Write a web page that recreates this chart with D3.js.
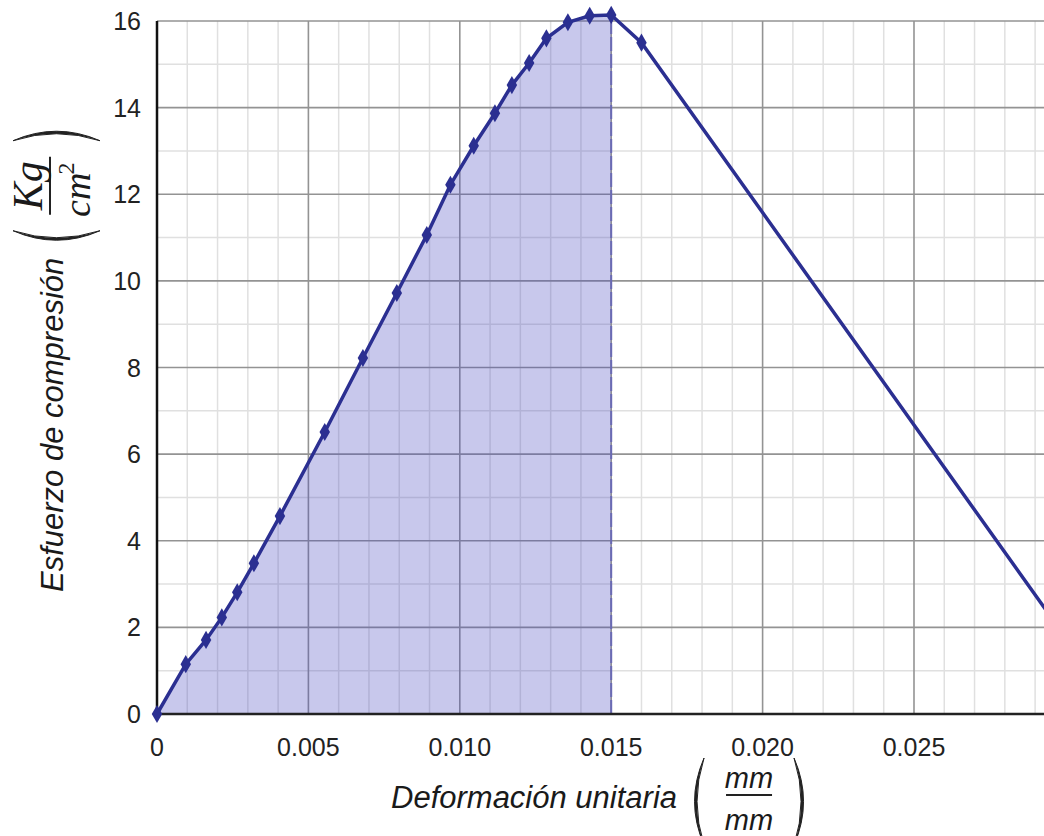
<!DOCTYPE html>
<html>
<head>
<meta charset="utf-8">
<script src="https://cdn.jsdelivr.net/npm/d3@7"></script>
<style>
  body { margin: 0; background: #fff; }
  svg { display: block; }
</style>
</head>
<body>
<script>
// strain (mm/mm) and stress (Kg/cm2)
var strain = [0, 0.00095, 0.00162, 0.00214, 0.00265, 0.0032, 0.00406, 0.00554, 0.0068, 0.00792,
    0.00891, 0.00969, 0.01046, 0.01116, 0.01172, 0.01229, 0.01286, 0.01357, 0.01429, 0.0150,
    0.0160, 0.0300];
var stress = [0, 1.15, 1.71, 2.23, 2.81, 3.48, 4.57, 6.51, 8.22, 9.72,
    11.06, 12.22, 13.12, 13.87, 14.52, 15.03, 15.6, 15.97, 16.12, 16.14,
    15.5, 1.77];
var markerCount = 21; // last point lies beyond the visible edge
var shadeLimit = 0.015;

var xTicks = [0, 0.005, 0.010, 0.015, 0.020, 0.025];
var xTickLabels = ["0", "0.005", "0.010", "0.015", "0.020", "0.025"];
var yTicks = [0, 2, 4, 6, 8, 10, 12, 14, 16];

var width = 1044, height = 836;
var lineColor = "#2b2f91";

var svg = d3.select("body").append("svg")
    .attr("width", width)
    .attr("height", height);

var x = d3.scaleLinear().domain([0, 0.025]).range([157, 914]);
var y = d3.scaleLinear().domain([0, 16]).range([714, 21]);

var points = strain.map((d, i) => ({ x: d, y: stress[i] }));

// grid
var grid = svg.append("g");
grid.selectAll("line.minx")
    .data(d3.range(1, 30).map(i => i * 0.001).filter(v => Math.round(v * 1000) % 5 !== 0))
    .enter().append("line")
    .attr("x1", d => x(d)).attr("x2", d => x(d))
    .attr("y1", y(0)).attr("y2", y(16))
    .style("stroke", "#e0e0e0").style("stroke-width", 1.5);
grid.selectAll("line.miny")
    .data(d3.range(1, 16, 2))
    .enter().append("line")
    .attr("x1", x(0)).attr("x2", width)
    .attr("y1", d => y(d)).attr("y2", d => y(d))
    .style("stroke", "#e0e0e0").style("stroke-width", 1.5);
grid.selectAll("line.majx")
    .data(xTicks.slice(1))
    .enter().append("line")
    .attr("x1", d => x(d)).attr("x2", d => x(d))
    .attr("y1", y(0)).attr("y2", y(16))
    .style("stroke", "#939393").style("stroke-width", 1.6);
grid.selectAll("line.majy")
    .data(yTicks.slice(1))
    .enter().append("line")
    .attr("x1", x(0)).attr("x2", width)
    .attr("y1", d => y(d)).attr("y2", d => y(d))
    .style("stroke", "#939393").style("stroke-width", 1.6);

// shaded area under the curve up to the peak
var shaded = points.filter(d => d.x <= shadeLimit);
var area = d3.area()
    .x(d => x(d.x))
    .y0(y(0))
    .y1(d => y(d.y));
svg.append("path")
    .datum(shaded)
    .attr("d", area)
    .style("fill", "#4848c0")
    .style("fill-opacity", 0.3);

var peak = shaded[shaded.length - 1];
svg.append("line")
    .attr("x1", x(peak.x)).attr("x2", x(peak.x))
    .attr("y1", y(0)).attr("y2", y(peak.y))
    .style("stroke", "#6a6ab4")
    .style("stroke-width", 2)
    .style("stroke-dasharray", "14,3");

// axes lines
svg.append("line")
    .attr("x1", x(0)).attr("x2", x(0))
    .attr("y1", y(16)).attr("y2", y(0))
    .style("stroke", "#111").style("stroke-width", 2.5);
svg.append("line")
    .attr("x1", x(0)).attr("x2", width)
    .attr("y1", y(0)).attr("y2", y(0))
    .style("stroke", "#222").style("stroke-width", 2.5);

// curve
var line = d3.line()
    .x(d => x(d.x))
    .y(d => y(d.y));
svg.append("path")
    .datum(points)
    .attr("d", line)
    .style("fill", "none")
    .style("stroke", lineColor)
    .style("stroke-width", 3.5);

svg.append("g")
    .selectAll("path")
    .data(points.slice(0, markerCount))
    .enter().append("path")
    .attr("d", d3.symbol().type(d3.symbolDiamond).size(95))
    .attr("transform", d => "translate(" + x(d.x) + "," + y(d.y) + ")")
    .style("fill", lineColor);

// tick labels
svg.append("g")
    .selectAll("text")
    .data(yTicks)
    .enter().append("text")
    .attr("x", 141)
    .attr("y", d => y(d) + 9)
    .attr("text-anchor", "end")
    .style("font-family", "'Liberation Sans', Arial, sans-serif")
    .style("font-size", "25px")
    .style("fill", "#222")
    .text(d => d);

svg.append("g")
    .selectAll("text")
    .data(xTicks)
    .enter().append("text")
    .attr("x", d => x(d))
    .attr("y", 756)
    .attr("text-anchor", "middle")
    .style("font-family", "'Liberation Sans', Arial, sans-serif")
    .style("font-size", "25px")
    .style("fill", "#222")
    .text((d, i) => xTickLabels[i]);

// axis titles with fraction units
function paren(g, x0, open) {
    // filled crescent shaped bracket between local y -50 and 37
    var top = -50, bot = 37, mid = (top + bot) / 2;
    var a = open ? x0 + 13 : x0, b = open ? x0 : x0 + 13;
    var c1 = open ? b - 6 : b + 6;
    var c2 = open ? b - 1 : b + 1;
    g.append("path")
        .attr("d", "M" + a + "," + top +
            " Q" + c1 + "," + mid + " " + a + "," + bot +
            " Q" + c2 + "," + mid + " " + a + "," + top + " Z")
        .style("fill", "#222")
        .style("stroke", "#222")
        .style("stroke-width", 1);
}

function axisTitle(g, label, fraction) {
    var t = g.append("text")
        .attr("x", 0).attr("y", 0)
        .style("font-family", "'Liberation Sans', Arial, sans-serif")
        .style("font-style", "italic")
        .style("font-size", "31px")
        .style("fill", "#1a1a1a")
        .text(label);
    var end = t.node().getComputedTextLength();
    paren(g, end + 14, true);
    paren(g, end + 117, false);
    var cx = end + 72;
    g.append("line")
        .attr("x1", cx - fraction.bar / 2).attr("x2", cx + fraction.bar / 2)
        .attr("y1", -13).attr("y2", -13)
        .style("stroke", "#222").style("stroke-width", 2);
    fraction.draw(g, cx);
}

var xTitle = svg.append("g").attr("transform", "translate(391,808)");
axisTitle(xTitle, "Deformación unitaria", {
    bar: 46,
    draw: function (g, cx) {
        ["mm", "mm"].forEach(function (s, i) {
            g.append("text")
                .attr("x", cx).attr("y", i === 0 ? -20 : 22)
                .attr("text-anchor", "middle")
                .style("font-family", "'Liberation Sans', Arial, sans-serif")
                .style("font-style", "italic")
                .style("font-size", "29px")
                .style("fill", "#1a1a1a")
                .text(s);
        });
    }
});

var yTitle = svg.append("g").attr("transform", "translate(63,592) rotate(-90)");
axisTitle(yTitle, "Esfuerzo de compresión", {
    bar: 58,
    draw: function (g, cx) {
        g.append("text")
            .attr("x", cx).attr("y", -21)
            .attr("text-anchor", "middle")
            .style("font-family", "'Liberation Serif', 'Times New Roman', serif")
            .style("font-style", "italic")
            .style("font-size", "42px")
            .style("fill", "#1a1a1a")
            .text("Kg");
        var den = g.append("text")
            .attr("x", cx - 4).attr("y", 27)
            .attr("text-anchor", "middle")
            .style("font-family", "'Liberation Serif', 'Times New Roman', serif")
            .style("font-style", "italic")
            .style("font-size", "38px")
            .style("fill", "#1a1a1a");
        den.append("tspan").text("cm");
        den.append("tspan")
            .attr("dy", -16)
            .attr("dx", -2)
            .style("font-style", "normal")
            .style("font-size", "24px")
            .text("2");
    }
});
</script>
</body>
</html>
